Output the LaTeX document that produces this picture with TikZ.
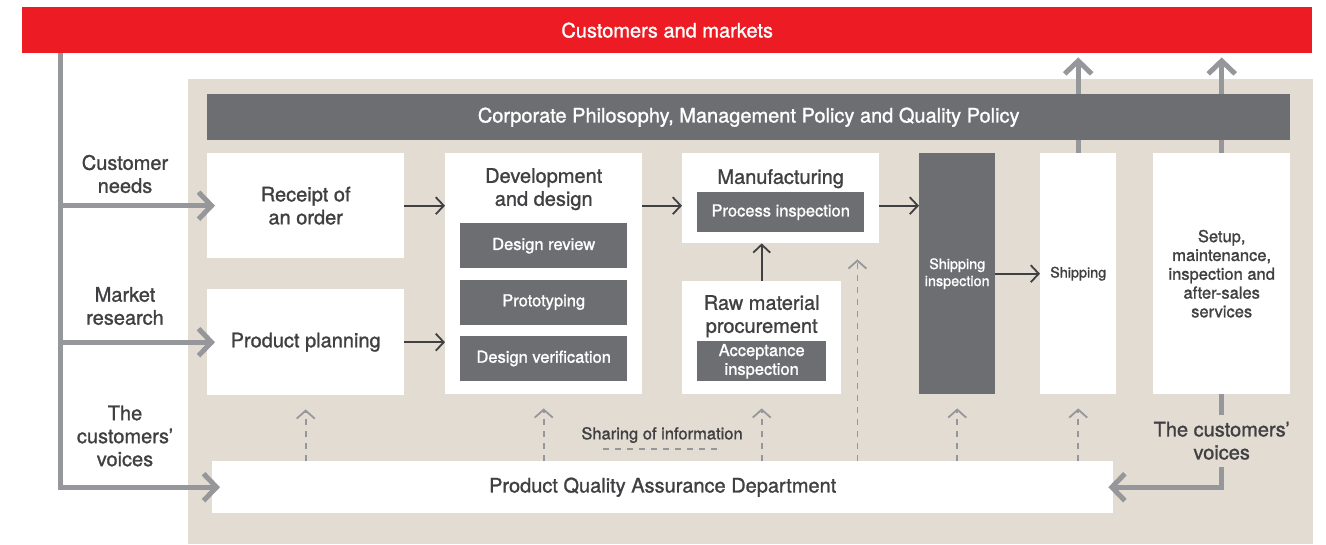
\documentclass[tikz,border=0pt]{standalone}
\usepackage{fontspec}
\setmainfont{TeX Gyre Heros}[BoldFont={TeX Gyre Heros}, BoldFeatures={FakeBold=1.2}]
\usetikzlibrary{arrows.meta,positioning,calc}
\definecolor{redqa}{RGB}{237,28,36}
\definecolor{beigeqa}{RGB}{226,220,211}
\definecolor{darkqa}{RGB}{109,110,113}
\definecolor{greyqa}{RGB}{150,151,154}
\definecolor{inkqa}{RGB}{64,64,66}
\newcommand{\qabig}{\fontsize{20}{23}\selectfont\bfseries}
\newcommand{\qamid}{\fontsize{16.5}{18.8}\selectfont\bfseries}
\newcommand{\qasmall}{\fontsize{14.4}{17}\selectfont\bfseries}
\pgfdeclarelayer{back}
\pgfsetlayers{back,main}

\begin{document}
\begin{tikzpicture}[x=1pt,y=-1pt,
  box/.style={fill=white, anchor=north west, inner sep=0pt, align=center, text=inkqa, font=\qabig},
  darkbox/.style={box, fill=darkqa, text=white},
  subbox/.style={fill=darkqa, text=white, inner sep=0pt, align=center, font=\qamid},
  title/.style={inner sep=0pt, align=center, text=inkqa, font=\qabig},
  side/.style={inner sep=0pt, align=center, text=inkqa, font=\qabig},
  bigarrow/.style={draw=greyqa, line width=5pt, -{Straight Barb[length=13pt,width=27pt]}},
  flow/.style={draw=inkqa, line width=1.8pt, -{Straight Barb[length=8pt,width=17pt]}},
  dasharrow/.style={draw=greyqa, line width=1.8pt, dash pattern=on 6pt off 6pt, -{Straight Barb[length=8pt,width=18pt]}, shorten >=14pt}]
  \useasboundingbox (0,0) rectangle (1326,544);

  \node[box, fill=redqa, text=white, minimum width=1290pt, minimum height=46pt] (market) at (22,7) {Customers and markets};
  \node[darkbox, minimum width=1083pt, minimum height=46pt] (policy) at (207,94) {Corporate Philosophy, Management Policy and Quality Policy};

  \node[box, minimum width=197pt, minimum height=105pt] (receipt) at (207,153) {Receipt of\\an order};
  \node[box, minimum width=197pt, minimum height=106pt] (planning) at (207,289) {Product planning};

  \node[box, minimum width=197pt, minimum height=241pt] (dev) at (445,153) {};
  \node[title, below=15pt of dev.north] (devtitle) {Development\\and design};
  \node[subbox, minimum width=167pt, minimum height=45pt, below=70pt of dev.north] (review) {Design review};
  \node[subbox, minimum width=167pt, minimum height=45pt, below=11pt of review] (proto) {Prototyping};
  \node[subbox, minimum width=167pt, minimum height=45pt, below=11pt of proto] (verif) {Design verification};

  \node[box, minimum width=197pt, minimum height=90pt] (manuf) at (682,153) {};
  \node[title, below=16pt of manuf.north] (manuftitle) {Manufacturing};
  \node[subbox, minimum width=167pt, minimum height=40pt, below=39pt of manuf.north] (process) {Process inspection};

  \node[box, minimum width=159pt, minimum height=113pt] (raw) at (682,281) {};
  \node[title, below=14pt of raw.north] (rawtitle) {Raw material\\procurement};
  \node[subbox, minimum width=129pt, minimum height=40pt, below=60pt of raw.north] (accept) {Acceptance\\inspection};

  \node[darkbox, font=\qasmall, minimum width=76pt, minimum height=241pt] (shipinsp) at (919,153) {Shipping\\inspection};
  \node[box, font=\qasmall, minimum width=76pt, minimum height=241pt] (shipping) at (1040,153) {Shipping};
  \node[box, font=\qamid, minimum width=137pt, minimum height=241pt] (setup) at (1153,153) {Setup,\\maintenance,\\inspection and\\after-sales\\services};

  \node[box, minimum width=901pt, minimum height=52pt] (pqa) at (212,461) {Product Quality Assurance Department};

  \node[side] (needs) at (125,174) {Customer\\needs};
  \node[side] (research) at (125,306) {Market\\research};
  \node[side] (voicesL) at (125,436) {The\\customers'\\voices};
  \node[side, font=\qamid] (sharing) at (662,435) {Sharing of information};

  \begin{pgfonlayer}{back}
    \fill[beigeqa] (188,79) rectangle (1313,544);
    \draw[bigarrow, shorten >=4pt] (shipping.north) -- (shipping.north |- market.south);
    \draw[bigarrow, shorten >=4pt] (setup.north) -- (setup.north |- market.south);
  \end{pgfonlayer}

  \coordinate (trunk) at ([xshift=38pt]market.south west);
  \draw[bigarrow, shorten >=-8pt] (trunk) |- (pqa.west);
  \draw[bigarrow, shorten >=-8pt] (trunk |- receipt.west) -- (receipt.west);
  \draw[bigarrow, shorten >=-8pt] (trunk |- planning.west) -- (planning.west);
  \draw[bigarrow, shorten >=-5pt] (setup.south) |- node[pos=0.25, side, fill=beigeqa, inner ysep=7pt] (voicesR) {The customers'\\voices} (pqa.east);

  \draw[flow] (receipt.east) -- (receipt.east -| dev.west);
  \draw[flow] (planning.east) -- (planning.east -| dev.west);
  \draw[flow] (receipt.east -| dev.east) -- (receipt.east -| manuf.west);
  \draw[flow] (receipt.east -| manuf.east) -- (receipt.east -| shipinsp.west);
  \draw[flow] (raw.north) -- (manuf.south -| raw.north);
  \draw[flow] (shipinsp.east) -- (shipping.west);

  \foreach \n in {planning,dev,raw,shipinsp,shipping}
    \draw[dasharrow] (pqa.north -| \n.south) -- (\n.south);
  \coordinate (tap) at ([xshift=-22pt]manuf.south east);
  \draw[dasharrow, shorten >=16pt] (pqa.north -| tap) -- (tap);
  \draw[greyqa, line width=1.8pt, dash pattern=on 6pt off 6pt] ([xshift=-59pt,yshift=-6pt]sharing.south) -- ([xshift=59pt,yshift=-6pt]sharing.south);
\end{tikzpicture}
\end{document}
